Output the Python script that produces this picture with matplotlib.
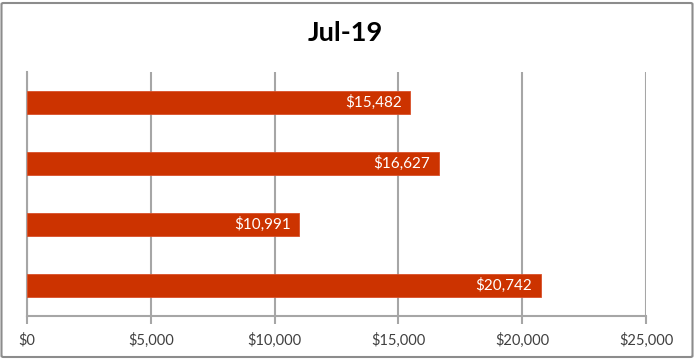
import matplotlib
matplotlib.use("Agg")
import matplotlib.pyplot as plt
from matplotlib.patches import FancyBboxPatch
from matplotlib.ticker import FuncFormatter

title = "Jul-19"
categories = ["Item 1", "Item 2", "Item 3", "Item 4"]
values = [15482, 16627, 10991, 20742]
xticks = [0, 5000, 10000, 15000, 20000, 25000]

plt.rcParams['font.family'] = ['Lato', 'DejaVu Sans']

W, H = 697, 359
fig = plt.figure(figsize=(W/100, H/100), dpi=100)
ax = fig.add_axes([27/W, 1-316/H, (646-27)/W, (316-72)/H])

ypos = list(range(len(categories)))
bars = ax.barh(ypos, values, height=0.39, color="#CC3300", edgecolor="#D9502A", linewidth=0.6, zorder=3)
ax.set_ylim(len(categories)-0.5, -0.5)
ax.set_xlim(0, 25000)
ax.set_xticks(xticks)
ax.xaxis.set_major_formatter(FuncFormatter(lambda v, p: f"${v:,.0f}"))
ax.set_yticks([])
ax.grid(axis='x', color="#A6A6A6", linewidth=1.5, zorder=0)
for s in ['top', 'right']:
    ax.spines[s].set_visible(False)
ax.spines['bottom'].set_color("#A6A6A6")
ax.spines['bottom'].set_linewidth(1.5)
ax.spines['left'].set_color("#A6A6A6")
ax.spines['left'].set_linewidth(1.5)
ax.tick_params(axis='x', length=6, width=1.5, color="#A6A6A6", labelsize=10.5, labelcolor="#404040", pad=6)

for b, v in zip(bars, values):
    ax.text(b.get_width() - 350, b.get_y() + b.get_height()/2, f"${v:,}",
            ha='right', va='center', color='white', fontsize=11, zorder=4)

fig.text(345/W, 1-33/H, title, ha='center', va='center', fontsize=19.5, fontweight='bold', color='black')

border = FancyBboxPatch((1.5/W, 2/H), (W-6)/W, (H-5)/H, boxstyle="round,pad=0,rounding_size=0.003",
                        transform=fig.transFigure, fill=False, edgecolor="#8C8C8C", linewidth=1.5)
fig.patches.append(border)

fig.savefig("out.png", dpi=100)
